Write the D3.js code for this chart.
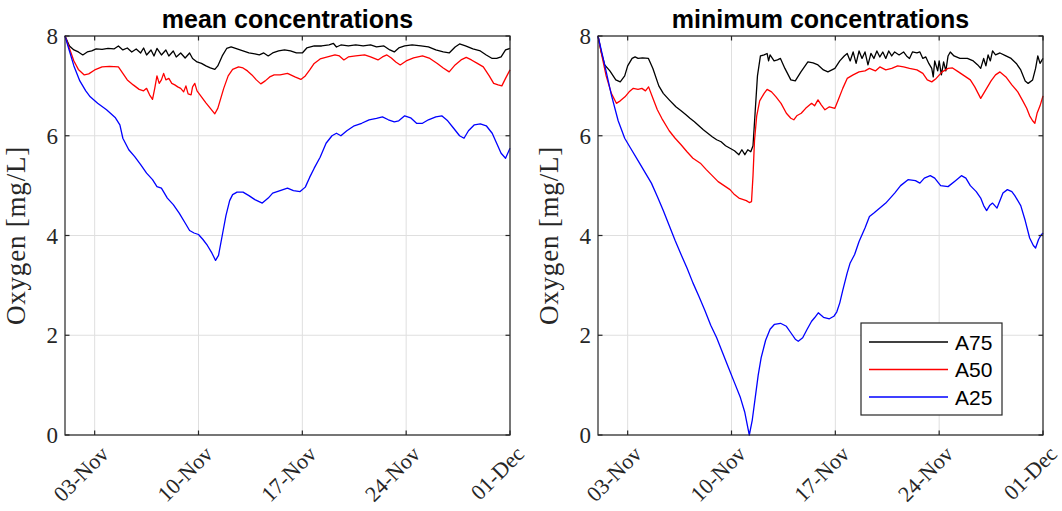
<!DOCTYPE html>
<html>
<head>
<meta charset="utf-8">
<script src="https://cdn.jsdelivr.net/npm/d3@7"></script>
<style>
  body { margin: 0; background: #fff; }
  svg { display: block; }
</style>
</head>
<body>
<script>
// oxygen series, [days since 01-Nov, mg/L]
const meanA75 = [[0,8],[0.3,7.8],[0.6,7.72],[0.9,7.68],[1.2,7.62],[1.5,7.68],[1.8,7.7],[2.1,7.74],[2.5,7.73],[2.9,7.75],[3.3,7.74],[3.6,7.8],[3.9,7.72],[4.2,7.76],[4.5,7.68],[4.8,7.74],[5.1,7.66],[5.3,7.76],[5.5,7.62],[5.8,7.72],[6.0,7.6],[6.2,7.75],[6.5,7.62],[6.8,7.72],[7.0,7.6],[7.3,7.7],[7.5,7.58],[7.8,7.66],[8.1,7.56],[8.4,7.66],[8.6,7.55],[8.9,7.48],[9.2,7.45],[9.5,7.4],[9.8,7.36],[10.1,7.33],[10.3,7.4],[10.6,7.6],[10.9,7.75],[11.2,7.78],[11.6,7.74],[12.0,7.7],[12.4,7.66],[12.8,7.64],[13.1,7.62],[13.4,7.66],[13.7,7.6],[14.0,7.66],[14.4,7.7],[14.8,7.72],[15.2,7.7],[15.6,7.66],[16.0,7.66],[16.3,7.76],[16.8,7.8],[17.3,7.8],[17.8,7.82],[18.1,7.85],[18.3,7.78],[18.6,7.82],[19.1,7.8],[19.6,7.82],[20.1,7.8],[20.6,7.82],[21.0,7.78],[21.5,7.8],[21.9,7.72],[22.2,7.68],[22.5,7.76],[22.9,7.8],[23.4,7.82],[24.0,7.8],[24.5,7.78],[25.0,7.72],[25.5,7.68],[25.9,7.66],[26.3,7.78],[26.6,7.84],[27.0,7.8],[27.5,7.74],[28.0,7.7],[28.4,7.62],[28.8,7.55],[29.1,7.55],[29.4,7.58],[29.7,7.72],[30,7.75]];
const meanA50 = [[0,8],[0.3,7.75],[0.6,7.5],[0.9,7.33],[1.3,7.22],[1.6,7.24],[2.0,7.32],[2.5,7.38],[3.0,7.39],[3.6,7.38],[3.9,7.25],[4.2,7.12],[4.6,7.02],[5.0,6.93],[5.3,6.9],[5.5,6.95],[5.7,6.82],[5.9,6.73],[6.05,6.95],[6.2,7.2],[6.35,7.05],[6.5,7.12],[6.65,7.25],[6.8,7.12],[7.0,7.15],[7.2,7.05],[7.4,7.02],[7.6,6.98],[7.8,6.95],[8.0,6.88],[8.15,7.0],[8.3,6.84],[8.5,6.82],[8.6,6.98],[8.75,7.05],[8.9,6.9],[9.2,6.78],[9.5,6.66],[9.8,6.55],[10.1,6.44],[10.3,6.55],[10.5,6.75],[10.7,6.95],[11.0,7.2],[11.3,7.33],[11.7,7.38],[12.0,7.36],[12.3,7.3],[12.6,7.22],[12.9,7.12],[13.2,7.04],[13.5,7.1],[13.8,7.18],[14.1,7.22],[14.5,7.22],[15.0,7.25],[15.5,7.18],[15.9,7.13],[16.2,7.2],[16.5,7.32],[16.8,7.45],[17.2,7.54],[17.7,7.58],[18.2,7.62],[18.5,7.6],[18.8,7.52],[19.1,7.58],[19.6,7.6],[20.2,7.62],[20.6,7.58],[21.1,7.52],[21.4,7.58],[21.7,7.62],[22.0,7.56],[22.3,7.48],[22.6,7.42],[23.0,7.5],[23.5,7.56],[24.1,7.6],[24.6,7.55],[25.1,7.45],[25.5,7.36],[25.9,7.28],[26.3,7.42],[26.7,7.52],[27.05,7.57],[27.4,7.52],[27.8,7.45],[28.2,7.38],[28.6,7.2],[28.9,7.05],[29.2,7.02],[29.45,7.0],[29.7,7.15],[30,7.32]];
const meanA25 = [[0,8],[0.3,7.7],[0.6,7.4],[1.0,7.1],[1.4,6.9],[1.7,6.78],[2.2,6.65],[2.8,6.52],[3.4,6.36],[3.7,6.22],[3.9,5.95],[4.3,5.72],[4.7,5.58],[5.1,5.42],[5.5,5.25],[5.9,5.12],[6.2,4.98],[6.5,4.95],[6.9,4.75],[7.3,4.62],[7.7,4.45],[8.1,4.25],[8.4,4.1],[8.7,4.05],[9.0,4.02],[9.3,3.92],[9.6,3.8],[9.9,3.65],[10.15,3.5],[10.35,3.6],[10.6,4.0],[10.85,4.4],[11.1,4.7],[11.3,4.82],[11.6,4.87],[12.0,4.87],[12.4,4.8],[12.8,4.72],[13.3,4.65],[13.7,4.75],[14.0,4.85],[14.5,4.9],[15.0,4.95],[15.4,4.9],[15.85,4.88],[16.2,4.97],[16.5,5.17],[16.8,5.35],[17.2,5.57],[17.6,5.85],[18.0,6.0],[18.3,6.05],[18.6,6.0],[19.0,6.1],[19.5,6.2],[20.0,6.25],[20.5,6.32],[21.0,6.35],[21.4,6.38],[21.8,6.32],[22.2,6.28],[22.5,6.3],[22.9,6.4],[23.3,6.36],[23.7,6.25],[24.1,6.25],[24.5,6.32],[25.0,6.38],[25.4,6.4],[25.8,6.3],[26.2,6.15],[26.6,6.0],[26.9,5.95],[27.2,6.1],[27.6,6.22],[28.0,6.24],[28.4,6.2],[28.8,6.05],[29.1,5.85],[29.4,5.65],[29.7,5.55],[30,5.75]];

const minA75 = [[0,8],[0.2,7.7],[0.45,7.42],[0.8,7.3],[1.2,7.12],[1.5,7.08],[1.8,7.2],[2.0,7.4],[2.3,7.55],[2.5,7.58],[2.7,7.55],[3.0,7.56],[3.4,7.55],[3.7,7.35],[4.1,7.0],[4.4,6.85],[4.8,6.72],[5.25,6.58],[5.6,6.5],[5.93,6.42],[6.2,6.35],[6.5,6.28],[6.8,6.2],[7.1,6.12],[7.4,6.05],[7.7,5.98],[8.0,5.92],[8.3,5.88],[8.6,5.8],[8.9,5.75],[9.2,5.7],[9.5,5.62],[9.7,5.72],[9.9,5.62],[10.1,5.72],[10.3,5.68],[10.45,5.8],[10.6,6.5],[10.75,7.2],[10.95,7.6],[11.2,7.62],[11.4,7.65],[11.5,7.5],[11.6,7.62],[11.87,7.5],[12.1,7.52],[12.3,7.55],[12.6,7.35],[13.0,7.12],[13.3,7.1],[13.68,7.28],[14.15,7.48],[14.5,7.46],[14.83,7.42],[15.2,7.32],[15.5,7.28],[15.97,7.35],[16.3,7.5],[16.6,7.6],[16.8,7.65],[17.0,7.5],[17.2,7.68],[17.4,7.45],[17.6,7.7],[17.8,7.55],[18.0,7.68],[18.2,7.42],[18.4,7.65],[18.6,7.55],[18.8,7.7],[19.0,7.58],[19.2,7.68],[19.4,7.55],[19.6,7.7],[19.8,7.6],[20.0,7.68],[20.3,7.62],[20.6,7.68],[20.8,7.6],[21.0,7.55],[21.2,7.68],[21.5,7.66],[21.7,7.68],[21.9,7.55],[22.1,7.58],[22.3,7.45],[22.5,7.35],[22.6,7.18],[22.7,7.5],[22.9,7.3],[23.0,7.5],[23.15,7.22],[23.3,7.48],[23.45,7.3],[23.6,7.6],[23.75,7.68],[24.0,7.6],[24.4,7.55],[24.9,7.55],[25.3,7.5],[25.6,7.42],[25.8,7.35],[26.0,7.55],[26.15,7.4],[26.3,7.62],[26.45,7.5],[26.6,7.7],[26.8,7.62],[27.1,7.66],[27.5,7.6],[27.85,7.55],[28.2,7.45],[28.5,7.32],[28.8,7.1],[29.0,7.05],[29.3,7.12],[29.5,7.35],[29.65,7.6],[29.8,7.45],[30,7.55]];
const minA50 = [[0,8],[0.3,7.55],[0.55,7.2],[0.9,6.85],[1.24,6.65],[1.5,6.7],[1.82,6.78],[2.1,6.88],[2.38,6.95],[2.7,6.93],[2.96,6.95],[3.2,6.9],[3.41,6.98],[3.7,6.75],[4.0,6.52],[4.3,6.35],[4.8,6.1],[5.2,5.95],[5.6,5.82],[6.0,5.68],[6.4,5.55],[6.9,5.45],[7.3,5.32],[7.7,5.2],[8.1,5.08],[8.5,5.0],[8.9,4.92],[9.2,4.82],[9.5,4.75],[9.8,4.72],[10.0,4.7],[10.2,4.66],[10.35,4.68],[10.45,5.2],[10.55,5.9],[10.7,6.4],[10.9,6.7],[11.2,6.85],[11.4,6.93],[11.7,6.88],[12.0,6.78],[12.34,6.65],[12.7,6.45],[13.0,6.35],[13.2,6.32],[13.4,6.4],[13.7,6.45],[14.0,6.55],[14.4,6.65],[14.6,6.6],[14.83,6.72],[15.05,6.62],[15.3,6.52],[15.6,6.58],[15.97,6.55],[16.2,6.72],[16.5,6.95],[16.8,7.15],[17.2,7.22],[17.6,7.28],[18.0,7.3],[18.3,7.35],[18.7,7.3],[19.0,7.38],[19.4,7.32],[19.8,7.35],[20.2,7.4],[20.6,7.38],[21.0,7.35],[21.5,7.32],[21.9,7.25],[22.2,7.12],[22.5,7.08],[22.8,7.15],[23.2,7.28],[23.6,7.35],[23.9,7.36],[24.3,7.28],[24.7,7.2],[25.1,7.12],[25.4,6.98],[25.8,6.75],[26.1,6.9],[26.5,7.1],[26.8,7.22],[27.1,7.28],[27.5,7.18],[27.9,7.02],[28.3,6.88],[28.6,6.72],[28.9,6.55],[29.1,6.4],[29.3,6.3],[29.45,6.25],[29.6,6.45],[29.8,6.6],[30,6.8]];
const minA25 = [[0,8],[0.45,7.42],[0.9,6.82],[1.36,6.3],[1.8,5.95],[2.2,5.75],[2.8,5.45],[3.2,5.25],[3.6,5.05],[4.0,4.78],[4.4,4.5],[4.8,4.2],[5.2,3.9],[5.6,3.62],[6.0,3.35],[6.4,3.05],[6.8,2.78],[7.2,2.5],[7.6,2.2],[8.0,1.95],[8.4,1.65],[8.8,1.35],[9.2,1.05],[9.6,0.75],[9.9,0.45],[10.1,0.15],[10.2,0.0],[10.4,0.3],[10.6,0.75],[10.8,1.2],[11.0,1.55],[11.3,1.9],[11.6,2.12],[11.9,2.22],[12.3,2.24],[12.7,2.18],[13.0,2.05],[13.3,1.92],[13.5,1.88],[13.8,1.95],[14.1,2.12],[14.4,2.28],[14.6,2.35],[14.85,2.45],[15.2,2.36],[15.6,2.33],[15.9,2.38],[16.1,2.47],[16.3,2.65],[16.5,2.9],[16.8,3.25],[17.0,3.45],[17.3,3.62],[17.6,3.88],[18.0,4.15],[18.3,4.38],[18.6,4.45],[19.0,4.55],[19.4,4.65],[19.7,4.75],[20.0,4.85],[20.4,5.0],[20.9,5.12],[21.4,5.1],[21.7,5.05],[22.0,5.15],[22.4,5.2],[22.7,5.15],[23.1,5.0],[23.6,4.98],[24.1,5.1],[24.5,5.2],[24.8,5.15],[25.1,5.0],[25.5,4.88],[25.8,4.75],[26.0,4.6],[26.2,4.5],[26.4,4.6],[26.6,4.65],[26.9,4.55],[27.1,4.7],[27.3,4.85],[27.6,4.92],[27.9,4.88],[28.1,4.8],[28.5,4.6],[28.8,4.3],[29.1,3.95],[29.35,3.8],[29.5,3.75],[29.7,3.92],[29.85,4.0],[30,4.05]];

const seriesNames = ["A75", "A50", "A25"];
const seriesColors = ["#000000", "#ff0000", "#0000ff"];
const xTickDates = ["2021-11-03", "2021-11-10", "2021-11-17", "2021-11-24", "2021-12-01"];
const yTicks = [0, 2, 4, 6, 8];
const titles = ["mean concentrations", "minimum concentrations"];

const start = new Date(2021, 10, 1);
const toDate = d => new Date(start.getTime() + d * 864e5);
const fmt = d3.timeFormat("%d-%b");
const parse = d3.timeParse("%Y-%m-%d");

const width = 1062, height = 511;
const svg = d3.select("body").append("svg")
    .attr("width", width)
    .attr("height", height);

const panels = [
  {left: 65, right: 510, title: titles[0], data: [meanA75, meanA50, meanA25], legend: false},
  {left: 598, right: 1043, title: titles[1], data: [minA75, minA50, minA25], legend: true}
];
const plotTop = 36, plotBottom = 435;
const axisColor = "#262626";

panels.forEach(p => {
  const x = d3.scaleTime().domain([start, toDate(30)]).range([p.left, p.right]);
  const y = d3.scaleLinear().domain([0, 8]).range([plotBottom, plotTop]);
  const g = svg.append("g");
  const tickDates = xTickDates.map(parse);

  // grid
  g.selectAll(".gx").data(tickDates).join("line")
    .attr("x1", d => x(d)).attr("x2", d => x(d))
    .attr("y1", plotTop).attr("y2", plotBottom)
    .attr("stroke", "#dfdfdf").attr("stroke-width", 1);
  g.selectAll(".gy").data(yTicks).join("line")
    .attr("x1", p.left).attr("x2", p.right)
    .attr("y1", d => y(d)).attr("y2", d => y(d))
    .attr("stroke", "#dfdfdf").attr("stroke-width", 1);

  // lines
  const line = d3.line().x(d => x(toDate(d[0]))).y(d => y(d[1]));
  p.data.forEach((s, i) => {
    g.append("path").attr("d", line(s))
      .attr("fill", "none")
      .attr("stroke", seriesColors[i])
      .attr("stroke-width", 1.3)
      .attr("stroke-linejoin", "round");
  });

  // box + inward ticks
  g.append("rect")
    .attr("x", p.left).attr("y", plotTop)
    .attr("width", p.right - p.left).attr("height", plotBottom - plotTop)
    .attr("fill", "none").attr("stroke", axisColor).attr("stroke-width", 1.2);
  const tl = 4.5;
  tickDates.forEach(d => {
    g.append("line").attr("x1", x(d)).attr("x2", x(d)).attr("y1", plotBottom).attr("y2", plotBottom - tl).attr("stroke", axisColor).attr("stroke-width", 1.2);
    g.append("line").attr("x1", x(d)).attr("x2", x(d)).attr("y1", plotTop).attr("y2", plotTop + tl).attr("stroke", axisColor).attr("stroke-width", 1.2);
  });
  yTicks.forEach(v => {
    g.append("line").attr("x1", p.left).attr("x2", p.left + tl).attr("y1", y(v)).attr("y2", y(v)).attr("stroke", axisColor).attr("stroke-width", 1.2);
    g.append("line").attr("x1", p.right).attr("x2", p.right - tl).attr("y1", y(v)).attr("y2", y(v)).attr("stroke", axisColor).attr("stroke-width", 1.2);
  });

  // tick labels
  g.selectAll(".yl").data(yTicks).join("text")
    .attr("x", p.left - 7).attr("y", d => y(d)).attr("dy", "0.35em")
    .attr("text-anchor", "end")
    .attr("font-family", "Liberation Serif").attr("font-size", 23)
    .attr("fill", axisColor)
    .text(d => d);
  g.selectAll(".xl").data(tickDates).join("text")
    .attr("transform", d => `translate(${x(d) + 10},${plotBottom + 15}) rotate(-45)`)
    .attr("dy", "0.35em")
    .attr("text-anchor", "end")
    .attr("font-family", "Liberation Serif").attr("font-size", 22)
    .attr("fill", axisColor)
    .text(d => fmt(d));

  // y label
  g.append("text")
    .attr("transform", `translate(${p.left - 40},${(plotTop + plotBottom) / 2}) rotate(-90)`)
    .attr("text-anchor", "middle")
    .attr("font-family", "Liberation Serif").attr("font-size", 27)
    .attr("letter-spacing", 0.8)
    .attr("fill", axisColor)
    .text("Oxygen [mg/L]");

  // title
  g.append("text")
    .attr("x", (p.left + p.right) / 2).attr("y", 28)
    .attr("text-anchor", "middle")
    .attr("font-family", "Liberation Sans").attr("font-weight", "bold").attr("font-size", 25)
    .attr("fill", "#000")
    .text(p.title);

  if (p.legend) {
    const lg = g.append("g");
    lg.append("rect").attr("x", 861).attr("y", 323).attr("width", 141).attr("height", 92)
      .attr("fill", "#fff").attr("stroke", axisColor).attr("stroke-width", 1.2);
    seriesNames.forEach((n, i) => {
      const yy = 342 + i * 27.5;
      lg.append("line").attr("x1", 869).attr("x2", 948).attr("y1", yy).attr("y2", yy)
        .attr("stroke", seriesColors[i]).attr("stroke-width", 1.3);
      lg.append("text").attr("x", 955).attr("y", yy).attr("dy", "0.36em")
        .attr("font-family", "Liberation Sans").attr("font-size", 21)
        .attr("fill", "#000").text(n);
    });
  }
});
</script>
</body>
</html>
